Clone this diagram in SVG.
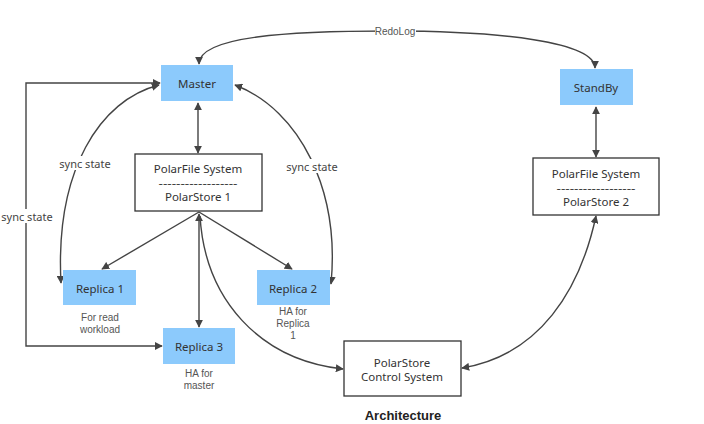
<svg xmlns="http://www.w3.org/2000/svg" width="704" height="424" viewBox="0 0 704 424">
<style>
text{font-family:"Noto Sans","Open Sans","DejaVu Sans",sans-serif;fill:#333;text-anchor:middle;dominant-baseline:central}
.blue{fill:#8ccafc;stroke:none}
.white{fill:#fff;stroke:#333;stroke-width:1.3}
.n{font-size:11.5px}
.s{font-size:10px;fill:#555;font-family:"Liberation Sans","Arial",sans-serif}
.l{font-size:11px;fill:#444}
.c{fill:none;stroke:#444;stroke-width:1.4}
.lbl{fill:#fff}
</style>
<defs>
<marker id="a" viewBox="0 0 10 10" refX="9" refY="5" markerWidth="8" markerHeight="8" markerUnits="userSpaceOnUse" orient="auto-start-reverse">
<path d="M0,0 L10,5 L0,10 z" fill="#444"/>
</marker>
</defs>
<rect width="704" height="424" fill="#fff"/>
<g id="connectors">
<path class="c" d="M199,64 C199,36 290,31 390,31 C500,31 595,42 595,68" marker-start="url(#a)" marker-end="url(#a)"/>
<path class="c" d="M198,103 L198,153" marker-start="url(#a)" marker-end="url(#a)"/>
<path class="c" d="M596,107 L596,157" marker-start="url(#a)" marker-end="url(#a)"/>
<path class="c" d="M162,346 L26,346 L26,83 L160,83" marker-start="url(#a)" marker-end="url(#a)"/>
<path class="c" d="M159,85 C100,100 55,170 61,283" marker-start="url(#a)" marker-end="url(#a)"/>
<path class="c" d="M235,85 C300,110 340,190 331,284" marker-start="url(#a)" marker-end="url(#a)"/>
<path class="c" d="M199,212 L102,269" marker-end="url(#a)"/>
<path class="c" d="M199,212 L292,269" marker-end="url(#a)"/>
<path class="c" d="M199,214 L199,327" marker-start="url(#a)" marker-end="url(#a)"/>
<path class="c" d="M200,216 C205,300 260,360 343,369" marker-end="url(#a)"/>
<path class="c" d="M596,216 C580,290 540,355 462,368" marker-start="url(#a)" marker-end="url(#a)"/>
<rect class="lbl" x="375" y="25" width="41" height="12"/>
<text class="s" x="395" y="31">RedoLog</text>
<rect class="lbl" x="57" y="156" width="57" height="14"/>
<text class="l" x="85" y="163">sync state</text>
<rect class="lbl" x="284" y="159" width="57" height="14"/>
<text class="l" x="312" y="166">sync state</text>
<rect class="lbl" x="0" y="209" width="56" height="14"/>
<text class="l" x="27" y="216">sync state</text>
</g>
<g id="master">
<rect class="blue" x="161" y="65" width="72" height="36"/>
<text class="n" x="197" y="83">Master</text>
</g>
<g id="standby">
<rect class="blue" x="560" y="69" width="73" height="36"/>
<text class="n" x="596" y="87">StandBy</text>
</g>
<g id="polarfs1">
<rect class="white" x="135" y="154" width="127" height="57"/>
<text class="n" x="198" y="168">PolarFile System</text>
<text class="n" x="198" y="182" textLength="79" lengthAdjust="spacingAndGlyphs">------------------</text>
<text class="n" x="198" y="196">PolarStore 1</text>
</g>
<g id="polarfs2">
<rect class="white" x="533" y="158" width="126" height="57"/>
<text class="n" x="596" y="173">PolarFile System</text>
<text class="n" x="596" y="187" textLength="79" lengthAdjust="spacingAndGlyphs">------------------</text>
<text class="n" x="596" y="201">PolarStore 2</text>
</g>
<g id="replica1">
<rect class="blue" x="63" y="270" width="73" height="35"/>
<text class="n" x="100" y="288">Replica 1</text>
<text class="s" x="100" y="317">For read</text>
<text class="s" x="100" y="329">workload</text>
</g>
<g id="replica2">
<rect class="blue" x="257" y="270" width="73" height="35"/>
<text class="n" x="293" y="288">Replica 2</text>
<text class="s" x="293" y="311">HA for</text>
<text class="s" x="293" y="323">Replica</text>
<text class="s" x="293" y="335">1</text>
</g>
<g id="replica3">
<rect class="blue" x="163" y="328" width="72" height="36"/>
<text class="n" x="199" y="346">Replica 3</text>
<text class="s" x="199" y="373">HA for</text>
<text class="s" x="199" y="385">master</text>
</g>
<g id="control">
<rect class="white" x="344" y="341" width="117" height="55"/>
<text class="n" x="402" y="362">PolarStore</text>
<text class="n" x="402" y="376">Control System</text>
</g>
<text x="403" y="420" style="font-family:'Liberation Sans',Arial,sans-serif;font-size:13px;font-weight:bold;fill:#222;dominant-baseline:auto">Architecture</text>
</svg>
